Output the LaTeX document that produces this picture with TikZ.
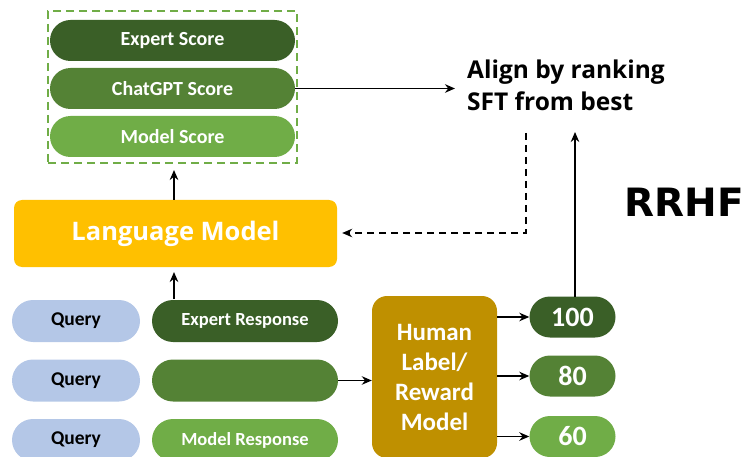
\documentclass[tikz,border=0pt]{standalone}
\usepackage{fontspec}
\setmainfont{Carlito}
\newfontfamily\headfont{Open Sans}
\newfontfamily\titlefont{DejaVu Sans}
\usetikzlibrary{arrows.meta,shapes.misc}

\definecolor{gdark}{HTML}{3A5F27}
\definecolor{gmid}{HTML}{548235}
\definecolor{glight}{HTML}{70AD47}
\definecolor{qblue}{HTML}{B4C7E7}
\definecolor{lmgold}{HTML}{FFC000}
\definecolor{hlgold}{HTML}{BF9000}

\tikzset{
  pill/.style={rounded rectangle, inner sep=0pt, font=\bfseries,
    text=white, minimum height=41pt},
  scorepill/.style={pill, minimum width=245pt, font=\fontsize{20}{24}\selectfont\bfseries},
  querypill/.style={pill, fill=qblue, text=black, minimum width=128pt, minimum height=42pt,
    font=\fontsize{19.5}{23}\selectfont\bfseries},
  resppill/.style={pill, minimum width=186pt, minimum height=42pt,
    font=\fontsize{18.5}{22}\selectfont\bfseries},
  numpill/.style={pill, minimum width=86pt, minimum height=41pt,
    font=\fontsize{28}{32}\selectfont\bfseries},
  flow/.style={line width=1.6pt, -{Stealth[length=10pt,width=8.5pt]}},
}

\begin{document}
\begin{tikzpicture}[x=1pt, y=-1pt]
  \useasboundingbox (0,0) rectangle (752,457);

  % score stack inside the dashed group
  \node[scorepill, fill=gdark]  (es) at (172.5,40.5)  {Expert Score};
  \node[scorepill, fill=gmid]   (cs) at (172.5,88.5)  {ChatGPT Score};
  \node[scorepill, fill=glight] (ms) at (172.5,136.5) {Model Score};
  \node[draw=glight, line width=1.8pt, dash pattern=on 8pt off 5pt,
        minimum width=249pt, minimum height=152pt, inner sep=0pt]
        (grp) at (172.5,87) {};

  % language model
  \node[fill=lmgold, rounded corners=8pt, minimum width=323pt, minimum height=67pt,
        inner sep=0pt, text=white, font=\headfont\fontsize{25.5}{30}\selectfont\bfseries]
        (lm) at (175.5,233.5) {Language Model};

  % queries and responses
  \node[querypill] (q1) at (76,321)   {Query};
  \node[querypill] (q2) at (76,380.5) {Query};
  \node[querypill] (q3) at (76,440)   {Query};
  \node[resppill, fill=gdark]  (r1) at (245,321)   {Expert Response};
  \node[resppill, fill=gmid]   (r2) at (245,380.5) {};
  \node[resppill, fill=glight] (r3) at (245,440)   {Model Response};

  % human label / reward model
  \node[fill=hlgold, rounded corners=15pt, minimum width=125pt, minimum height=162pt,
        inner sep=0pt, text=white, align=center,
        font=\fontsize{25}{30}\selectfont\bfseries]
        (hl) at (434.5,377) {Human\\Label/\\Reward\\Model};

  % ranked scores
  \node[numpill, fill=gdark]  (s100) at (572.5,317)   {100};
  \node[numpill, fill=gmid]   (s80)  at (572.5,376) {80};
  \node[numpill, fill=glight] (s60)  at (572.5,436.5) {60};

  % objective text
  \node[anchor=west, align=left, inner sep=0pt,
        font=\headfont\fontsize{24.5}{32}\selectfont\bfseries]
        (align) at (467,85) {Align by ranking\\SFT from best};
  \node[font=\titlefont\fontsize{39}{44}\selectfont\bfseries, inner sep=0pt]
        (rrhf) at (684,202) {RRHF};

  % connector end points
  \coordinate (fbtop)    at (526,133);
  \coordinate (fbcorner) at (526,233);
  \coordinate (rankbot)  at (575,296.5);
  \coordinate (ranktop)  at (575,132);
  \coordinate (lmtop)    at (174,200);
  \coordinate (grpbot)   at (174,170);
  \coordinate (r1top)    at (174,299);
  \coordinate (lmbot)    at (174,272);

  % connectors
  \draw[flow, shorten >=12pt] (cs.east) -- (cs.east -| align.west);
  \draw[flow, dash pattern=on 7pt off 5pt, shorten >=5pt]
        (fbtop) -- (fbcorner) -- (fbcorner -| lm.east);
  \draw[flow] (rankbot) -- (ranktop);
  \draw[flow] (lmtop) -- (grpbot);
  \draw[flow] (r1top) -- (lmbot);
  \draw[flow] (r2.east) -- (r2.east -| hl.west);
  \draw[flow] (hl.east |- s100.west) -- (s100.west);
  \draw[flow] (hl.east |- s80.west) -- (s80.west);
  \draw[flow] (hl.east |- s60.west) -- (s60.west);
\end{tikzpicture}
\end{document}
